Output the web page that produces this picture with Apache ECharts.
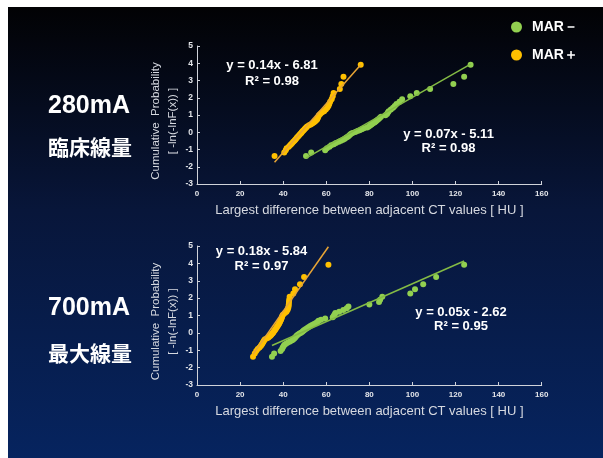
<!DOCTYPE html>
<html>
<head>
<meta charset="utf-8">
<script src="https://cdn.jsdelivr.net/npm/echarts@6/dist/echarts.min.js"></script>
<style>
  html, body { margin: 0; padding: 0; background: #ffffff; }
  #chart { width: 603px; height: 458px; }
</style>
</head>
<body>
<div id="chart"></div>
<script>
// Gumbel plotting positions: cumulative probability -ln(-ln F) for ranks 1..50
const probY = [-1.37,-1.18,-1.04,-0.93,-0.84,-0.76,-0.69,-0.62,-0.55,-0.49,
               -0.43,-0.37,-0.31,-0.26,-0.20,-0.15,-0.09,-0.04,0.01,0.07,
               0.12,0.17,0.23,0.28,0.34,0.40,0.45,0.51,0.57,0.63,
               0.70,0.76,0.83,0.90,0.98,1.06,1.14,1.22,1.32,1.42,
               1.52,1.64,1.77,1.91,2.08,2.27,2.51,2.80,3.22,3.92];

// Largest CT-value difference [HU], sorted, one per rank
const plus280 = [36,40.5,41.2,41.6,42.6,43.2,43.7,44.2,44.7,45.2,
                 45.6,46,46.4,46.8,47.2,47.6,48,48.4,48.7,49.1,
                 49.5,49.9,50.3,50.7,51.1,52,52.8,53.5,54.2,54.8,
                 55.4,55.8,56,56.3,56.6,57.2,58,59,59.8,60.5,
                 61,61.4,61.8,62.5,63,63.4,66.3,67,68,76];
const minus280 = [50.6,53,59.5,60.3,61.5,62.3,63.5,64.5,65.8,66.8,
                  67.8,68.6,69.3,70,70.5,71,71.5,72.2,73.5,74.5,
                  75.5,76.5,77.5,79,79.8,80.5,81,81.6,82.4,83,
                  83.6,84.2,84.8,85.4,87.5,88.2,88.6,89,90,91,
                  91.8,92.6,94,95.2,99,102,108.2,119,124,127];
const plus700 = [26,26.8,27.5,28.2,29,29.6,30,30.3,30.6,30.9,
                 31.2,31.6,32.5,33.2,33.8,34.2,34.6,35,35.3,35.6,
                 35.9,36.2,36.5,36.8,37.1,37.4,37.7,38,38.2,38.5,
                 38.7,39,39.2,39.4,39.6,40,40.8,41.5,42,42.3,
                 42.5,42.6,42.7,42.8,43,44.7,45.5,47.8,49.7,61];
const minus700 = [34.8,35.8,38.8,39.5,39.8,40.2,40.6,41.3,42.2,43.2,
                  44.2,44.8,45.2,45.6,46,46.4,46.9,47.6,48.3,48.9,
                  49.4,49.8,50.5,51.2,51.9,52.6,53.4,54.3,55.2,55.9,
                  56.4,57.6,59.5,63,63.5,63.9,64.2,66,67.9,69.5,
                  70.3,80,84.5,85,86,99,101.2,105,111,124];

// Linear fits (slopes carried to one more digit than the printed equations)
const fitPlus280  = [0.141, -6.81];
const fitMinus280 = [0.0713, -5.11];
const fitPlus700  = [0.177, -5.84];
const fitMinus700 = [0.0545, -2.62];

const eqTexts = [
  ['y = 0.14x - 6.81', 'R² = 0.98'],
  ['y = 0.07x - 5.11', 'R² = 0.98'],
  ['y = 0.18x - 5.84', 'R² = 0.97'],
  ['y = 0.05x - 2.62', 'R² = 0.95']
];
const doseLabels = [['280mA', '臨床線量'], ['700mA', '最大線量']];
const xTicks = [0, 160, 20];
const yTicks = [-3, 5, 1];
const NAME_MINUS = 'MAR－', NAME_PLUS = 'MAR＋';

const GREEN = '#92d050', ORANGE = '#ffc000';
const GREEN_LINE = '#84bb45', ORANGE_LINE = '#e8a535';
const FONT = '"Liberation Sans", Arial, sans-serif';

const pts = xs => xs.map((x, i) => [x, probY[i]]);
function fitLine(xs, fit) {
  const lo = Math.min(...xs), hi = Math.max(...xs);
  return [[lo, fit[0] * lo + fit[1]], [hi, fit[0] * hi + fit[1]]];
}

function xAxisFor(idx) {
  return {
    gridIndex: idx, type: 'value', min: xTicks[0], max: xTicks[1], interval: xTicks[2],
    name: 'Largest difference between adjacent CT values [ HU ]',
    nameLocation: 'middle', nameGap: 20, nameMoveOverlap: false,
    nameTextStyle: { color: '#d6d9e0', fontSize: 13, fontFamily: FONT },
    axisLine: { onZero: false, lineStyle: { color: '#d0d3da', width: 1 } },
    axisTick: { inside: true, length: 3, lineStyle: { color: '#d0d3da' } },
    axisLabel: { color: '#e4e6ea', fontSize: 8, fontWeight: 'bold', fontFamily: FONT, margin: 6 },
    splitLine: { show: false }
  };
}
function yAxisFor(idx) {
  return {
    gridIndex: idx, type: 'value', min: yTicks[0], max: yTicks[1], interval: yTicks[2],
    name: 'Cumulative  Probability\n[ -ln(-lnF(x)) ]',
    nameLocation: 'middle', nameGap: 16, nameMoveOverlap: false,
    nameTextStyle: { color: '#d6d9e0', fontSize: 11.5, lineHeight: 17, fontFamily: FONT, padding: [0, 12, 0, 0] },
    axisLine: { show: true, onZero: false, lineStyle: { color: '#d0d3da', width: 1 } },
    axisTick: { show: true, inside: true, length: 3, lineStyle: { color: '#d0d3da' } },
    axisLabel: { color: '#e4e6ea', fontSize: 8.5, fontWeight: 'bold', fontFamily: FONT, margin: 4 },
    splitLine: { show: false }
  };
}
function scatter(name, idx, xs, color) {
  return { name, type: 'scatter', xAxisIndex: idx, yAxisIndex: idx, data: pts(xs),
           symbolSize: 6, itemStyle: { color, opacity: 1 }, z: 3 };
}
function trend(idx, xs, fit, color) {
  return { name: 'fit', type: 'line', xAxisIndex: idx, yAxisIndex: idx, data: fitLine(xs, fit),
           symbol: 'none', lineStyle: { color, width: 1.5 }, z: 4, silent: true };
}

const eqPos = [[272, 65.5, 81.5], [448.5, 134, 148.5], [261.5, 251.5, 266.5], [461, 312, 326.5]];
const eqGraphics = [];
eqTexts.forEach((t, i) => {
  const p = eqPos[i];
  eqGraphics.push(
    { type: 'text', x: p[0], y: p[1], z: 10, style: { text: t[0], fill: '#ffffff', font: 'bold 13px ' + FONT, textAlign: 'center', textVerticalAlign: 'middle' } },
    { type: 'text', x: p[0], y: p[2], z: 10, style: { text: t[1], fill: '#ffffff', font: 'bold 13px ' + FONT, textAlign: 'center', textVerticalAlign: 'middle' } }
  );
});
const doseY = [[106, 147], [308, 353]];
const doseGraphics = [];
doseLabels.forEach((d, i) => {
  doseGraphics.push(
    { type: 'text', x: 48, y: doseY[i][0], z: 10, style: { text: d[0], fill: '#ffffff', font: 'bold 25px ' + FONT, textVerticalAlign: 'middle' } },
    { type: 'text', x: 48, y: doseY[i][1], z: 10, style: { text: d[1], fill: '#ffffff', font: 'bold 21px "Noto Sans CJK JP", sans-serif', textVerticalAlign: 'middle' } }
  );
});

const chart = echarts.init(document.getElementById('chart'), null, { renderer: 'canvas' });
chart.setOption({
  animation: false,
  backgroundColor: '#ffffff',
  graphic: [
    { type: 'rect', z: -10, shape: { x: 8, y: 7, width: 595, height: 451 },
      style: { fill: new echarts.graphic.LinearGradient(0, 0, 0, 1, [
        { offset: 0, color: '#020204' },
        { offset: 0.45, color: '#08163a' },
        { offset: 1, color: '#06245f' }
      ]) } },
    ...eqGraphics,
    ...doseGraphics
  ],
  legend: {
    data: [NAME_MINUS, NAME_PLUS], orient: 'vertical', left: 511, top: 20, padding: 0,
    icon: 'circle', itemWidth: 11, itemHeight: 11, itemGap: 14,
    itemStyle: { opacity: 1 },
    textStyle: { color: '#ffffff', fontSize: 14, fontWeight: 'bold', fontFamily: FONT, padding: [0, 0, 0, 5] }
  },
  grid: [
    { left: 197, top: 46, width: 344.7, height: 138 },
    { left: 197, top: 246, width: 344.7, height: 139 }
  ],
  xAxis: [xAxisFor(0), xAxisFor(1)],
  yAxis: [yAxisFor(0), yAxisFor(1)],
  series: [
    scatter(NAME_MINUS, 0, minus280, GREEN),
    scatter(NAME_PLUS, 0, plus280, ORANGE),
    trend(0, minus280, fitMinus280, GREEN_LINE),
    trend(0, plus280, fitPlus280, ORANGE_LINE),
    scatter(NAME_MINUS, 1, minus700, GREEN),
    scatter(NAME_PLUS, 1, plus700, ORANGE),
    trend(1, minus700, fitMinus700, GREEN_LINE),
    trend(1, plus700, fitPlus700, ORANGE_LINE)
  ]
});
</script>
</body>
</html>
